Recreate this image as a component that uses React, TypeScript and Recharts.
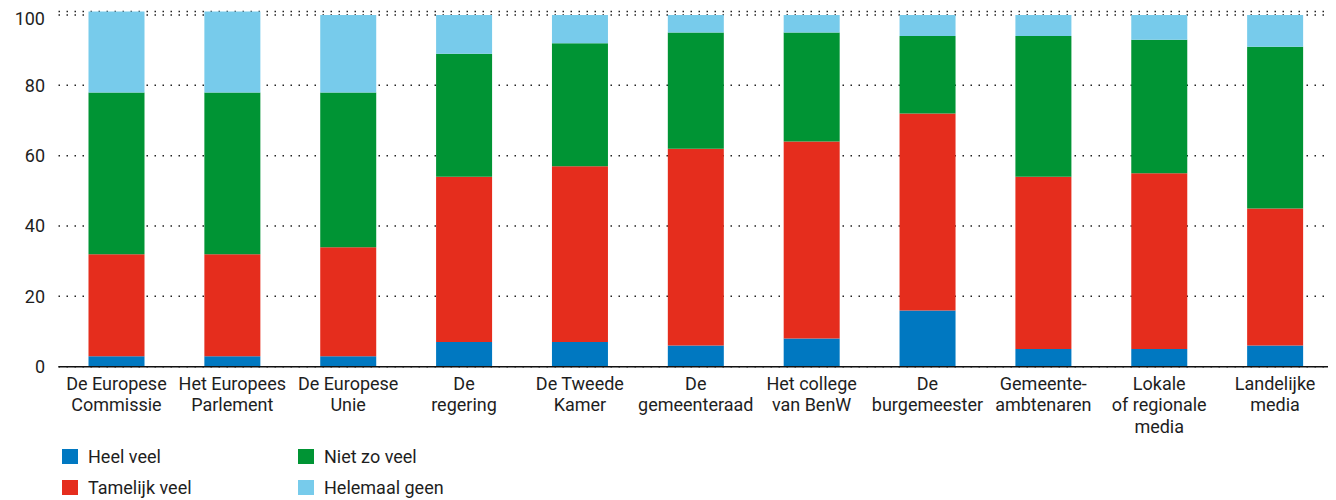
import { BarChart, Bar, XAxis, YAxis, CartesianGrid, Legend } from 'recharts';

const categories = [
  'De Europese\nCommissie',
  'Het Europees\nParlement',
  'De Europese\nUnie',
  'De\nregering',
  'De Tweede\nKamer',
  'De\ngemeenteraad',
  'Het college\nvan BenW',
  'De\nburgemeester',
  'Gemeente-\nambtenaren',
  'Lokale\nof regionale\nmedia',
  'Landelijke\nmedia',
];

const heelVeel = [3, 3, 3, 7, 7, 6, 8, 16, 5, 5, 6];
const tamelijkVeel = [29, 29, 31, 47, 50, 56, 56, 56, 49, 50, 39];
const nietZoVeel = [46, 46, 44, 35, 35, 33, 31, 22, 40, 38, 46];
const helemaalGeen = [23, 23, 22, 11, 8, 5, 5, 6, 6, 7, 9];

const yTicks = [0, 20, 40, 60, 80, 100];

const series = [
  { key: 'heelVeel', name: 'Heel veel', color: '#0078c1' },
  { key: 'tamelijkVeel', name: 'Tamelijk veel', color: '#e52d1d' },
  { key: 'nietZoVeel', name: 'Niet zo veel', color: '#009434' },
  { key: 'helemaalGeen', name: 'Helemaal geen', color: '#77cbeb' },
];

const data = categories.map((name, i) => ({
  name,
  heelVeel: heelVeel[i],
  tamelijkVeel: tamelijkVeel[i],
  nietZoVeel: nietZoVeel[i],
  helemaalGeen: helemaalGeen[i],
}));

const FONT = 'Roboto, "Open Sans", sans-serif';
const TEXT = '#1e1e1e';

// multi-line category labels under each bar
function CategoryTick({ x, y, payload }: any) {
  const lines = String(payload.value).split('\n');
  return (
    <text x={x} y={y} textAnchor="middle" fontSize={18} fill={TEXT} fontFamily={FONT}>
      {lines.map((line, i) => (
        <tspan key={i} x={x} dy={i === 0 ? 23.3 : 21.3}>
          {line}
        </tspan>
      ))}
    </text>
  );
}

// two-column legend: blue/red left, green/lightblue right
function LegendBlock() {
  const order = [series[0], series[2], series[1], series[3]];
  return (
    <div
      style={{
        display: 'grid',
        gridTemplateColumns: '236px 236px',
        rowGap: 13,
        fontFamily: FONT,
        fontSize: 18,
        color: TEXT,
      }}
    >
      {order.map((s) => (
        <div key={s.key} style={{ display: 'flex', alignItems: 'center', height: 18, lineHeight: '18px' }}>
          <span style={{ width: 16, height: 15, background: s.color, marginRight: 10, flex: 'none' }} />
          <span>{s.name}</span>
        </div>
      ))}
    </div>
  );
}

export default function App() {
  return (
    <BarChart
      width={1328}
      height={492}
      data={data}
      margin={{ top: 3.5, right: 3, bottom: 73.3, left: 0 }}
      barSize={56}
    >
      <CartesianGrid
        vertical={false}
        stroke="#222"
        strokeWidth={1.5}
        strokeDasharray="1.5 6.5"
      />
      <XAxis
        dataKey="name"
        interval={0}
        height={60}
        tickLine={false}
        tickSize={0}
        tickMargin={0}
        axisLine={{ stroke: '#111', strokeWidth: 1.5 }}
        tick={<CategoryTick />}
      />
      <YAxis
        width={50.5}
        domain={[0, 'dataMax']}
        ticks={yTicks}
        axisLine={false}
        tickLine={false}
        tickSize={0}
        tickMargin={13.5}
        tick={{ fontSize: 18, fill: TEXT, fontFamily: FONT }}
      />
      <Legend
        layout="horizontal"
        verticalAlign="middle"
        align="center"
        wrapperStyle={{ left: 54, top: 439.5, width: 480 }}
        content={<LegendBlock />}
      />
      {series.map((s) => (
        <Bar
          key={s.key}
          dataKey={s.key}
          name={s.name}
          stackId="a"
          fill={s.color}
          isAnimationActive={false}
        />
      ))}
    </BarChart>
  );
}
